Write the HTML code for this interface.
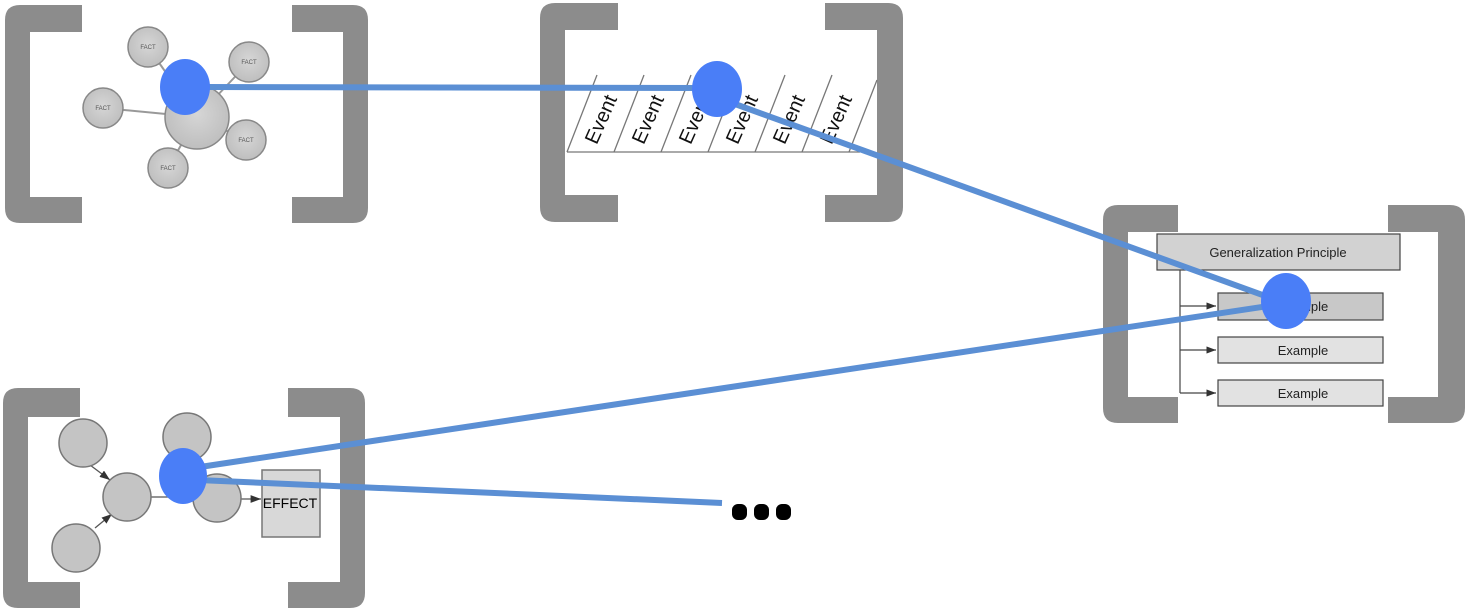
<!DOCTYPE html>
<html><head><meta charset="utf-8"><style>
html,body{margin:0;padding:0;background:#fff;}
svg{display:block;font-family:"Liberation Sans",sans-serif;}
</style></head><body>
<svg width="1467" height="611" viewBox="0 0 1467 611" xmlns="http://www.w3.org/2000/svg">
<defs>
<radialGradient id="g" cx="50%" cy="45%" r="60%"><stop offset="0" stop-color="#d6d6d6"/><stop offset="1" stop-color="#bcbcbc"/></radialGradient>
<marker id="ar" markerWidth="8" markerHeight="6" refX="8" refY="3" orient="auto"><path d="M0,0 L8,3 L0,6 Z" fill="#333"/></marker>
</defs>
<g fill="#8c8c8c">
<!-- box1 -->
<path d="M82,5 L20,5 Q5,5 5,20 L5,208 Q5,223 20,223 L82,223 L82,197 L30,197 L30,32 L82,32 Z"/>
<path d="M292,5 L353,5 Q368,5 368,20 L368,208 Q368,223 353,223 L292,223 L292,197 L343,197 L343,32 L292,32 Z"/>
<!-- box2 -->
<path d="M618,3 L555,3 Q540,3 540,18 L540,207 Q540,222 555,222 L618,222 L618,195 L565,195 L565,30 L618,30 Z"/>
<path d="M825,3 L888,3 Q903,3 903,18 L903,207 Q903,222 888,222 L825,222 L825,195 L877,195 L877,30 L825,30 Z"/>
<!-- box3 -->
<path d="M80,388 L18,388 Q3,388 3,403 L3,593 Q3,608 18,608 L80,608 L80,582 L28,582 L28,417 L80,417 Z"/>
<path d="M288,388 L350,388 Q365,388 365,403 L365,593 Q365,608 350,608 L288,608 L288,582 L340,582 L340,417 L288,417 Z"/>
<!-- box4 -->
<path d="M1178,205 L1118,205 Q1103,205 1103,220 L1103,408 Q1103,423 1118,423 L1178,423 L1178,397 L1128,397 L1128,232 L1178,232 Z"/>
<path d="M1388,205 L1450,205 Q1465,205 1465,220 L1465,408 Q1465,423 1450,423 L1388,423 L1388,397 L1438,397 L1438,232 L1388,232 Z"/>
</g>

<!-- box1 facts -->
<g stroke="#999" stroke-width="2">
<line x1="197" y1="117" x2="148" y2="47"/><line x1="197" y1="117" x2="249" y2="62"/>
<line x1="197" y1="117" x2="103" y2="108"/><line x1="197" y1="117" x2="246" y2="140"/>
<line x1="197" y1="117" x2="168" y2="168"/>
</g>
<g fill="url(#g)" stroke="#888" stroke-width="1.5">
<circle cx="197" cy="117" r="32"/>
<circle cx="148" cy="47" r="20"/><circle cx="249" cy="62" r="20"/>
<circle cx="103" cy="108" r="20"/><circle cx="246" cy="140" r="20"/>
<circle cx="168" cy="168" r="20"/>
</g>
<g font-size="6" fill="#555" text-anchor="middle">
<text x="148" y="49">FACT</text><text x="249" y="64">FACT</text><text x="103" y="110">FACT</text><text x="246" y="142">FACT</text><text x="168" y="170">FACT</text>
</g>

<!-- box2 events -->
<g stroke="#777" stroke-width="1.3">
<line x1="567" y1="152" x2="860" y2="152"/>
<line x1="567" y1="152" x2="597" y2="75"/><line x1="614" y1="152" x2="644" y2="75"/>
<line x1="661" y1="152" x2="691" y2="75"/><line x1="708" y1="152" x2="738" y2="75"/>
<line x1="755" y1="152" x2="785" y2="75"/><line x1="802" y1="152" x2="832" y2="75"/>
<line x1="849" y1="152" x2="877" y2="80"/>
</g>
<g font-size="20" fill="#111" text-anchor="middle">
<text transform="translate(607,122) rotate(-66)">Event</text>
<text transform="translate(654,122) rotate(-66)">Event</text>
<text transform="translate(701,122) rotate(-66)">Event</text>
<text transform="translate(748,122) rotate(-66)">Event</text>
<text transform="translate(795,122) rotate(-66)">Event</text>
<text transform="translate(842,122) rotate(-66)">Event</text>
</g>

<!-- box4 -->
<g stroke="#444" stroke-width="1.2">
<rect x="1157" y="234" width="243" height="36" fill="#d2d2d2"/>
<rect x="1218" y="293" width="165" height="27" fill="#c8c8c8"/>
<rect x="1218" y="337" width="165" height="26" fill="#e2e2e2"/>
<rect x="1218" y="380" width="165" height="26" fill="#e2e2e2"/>
<line x1="1180" y1="270" x2="1180" y2="393" fill="none"/>
<line x1="1180" y1="306" x2="1216" y2="306" marker-end="url(#ar)"/>
<line x1="1180" y1="350" x2="1216" y2="350" marker-end="url(#ar)"/>
<line x1="1180" y1="393" x2="1216" y2="393" marker-end="url(#ar)"/>
</g>
<g font-size="13" fill="#222" text-anchor="middle">
<text x="1278" y="257">Generalization Principle</text>
<text x="1303" y="311">Example</text>
<text x="1303" y="355">Example</text>
<text x="1303" y="398">Example</text>
</g>

<!-- box3 -->
<g stroke="#555" stroke-width="1.3">
<line x1="90" y1="465" x2="110" y2="480" marker-end="url(#ar)"/>
<line x1="95" y1="528" x2="112" y2="514" marker-end="url(#ar)"/>
<line x1="150" y1="497" x2="195" y2="497"/>
<line x1="240" y1="499" x2="261" y2="499" marker-end="url(#ar)"/>
</g>
<g fill="#c4c4c4" stroke="#777" stroke-width="1.5">
<circle cx="83" cy="443" r="24"/><circle cx="127" cy="497" r="24"/><circle cx="76" cy="548" r="24"/>
<circle cx="187" cy="437" r="24"/><circle cx="217" cy="498" r="24"/>
<rect x="262" y="470" width="58" height="67" fill="#d8d8d8"/>
</g>
<text x="290" y="508" font-size="14" fill="#000" text-anchor="middle">EFFECT</text>

<!-- connectors -->
<g stroke="#5b8fd4" stroke-width="6" stroke-linecap="butt">
<line x1="205" y1="87" x2="700" y2="88"/>
<line x1="735" y1="104" x2="1282" y2="302"/>
<line x1="1275" y1="305" x2="200" y2="467"/>
<line x1="198" y1="480" x2="722" y2="503"/>
</g>
<g fill="#4a7ef7">
<ellipse cx="185" cy="87" rx="25" ry="28"/>
<ellipse cx="717" cy="89" rx="25" ry="28"/>
<ellipse cx="1286" cy="301" rx="25" ry="28"/>
<ellipse cx="183" cy="476" rx="24" ry="28"/>
</g>
<g fill="#000">
<rect x="732" y="504" width="15" height="16" rx="6"/>
<rect x="754" y="504" width="15" height="16" rx="6"/>
<rect x="776" y="504" width="15" height="16" rx="6"/>
</g>
</svg>
</body></html>
